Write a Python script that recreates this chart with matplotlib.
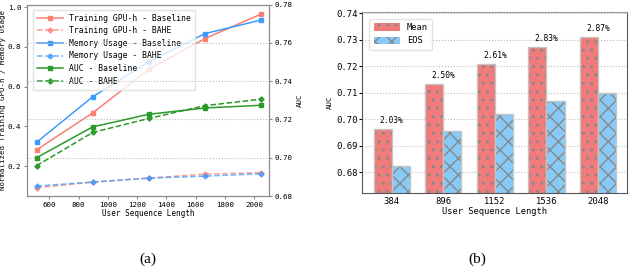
import matplotlib
matplotlib.use("Agg")
import matplotlib.pyplot as plt
from matplotlib.patches import Patch
import numpy as np

plt.rcParams['font.family'] = ['DejaVu Sans Mono', 'DejaVu Sans']

# --- (a) cost / AUC vs sequence length ---
seq_len = [512, 896, 1280, 1664, 2048]
gpu_base = [0.282, 0.468, 0.687, 0.842, 0.965]
gpu_bahe = [0.092, 0.120, 0.140, 0.160, 0.168]
mem_base = [0.320, 0.549, 0.725, 0.867, 0.935]
mem_bahe = [0.100, 0.120, 0.140, 0.150, 0.162]
auc_base = [0.7000, 0.7161, 0.7227, 0.7260, 0.7274]
auc_bahe = [0.6958, 0.7132, 0.7205, 0.7272, 0.7306]

# --- (b) AUC bars ---
bar_cats = ['384', '896', '1152', '1536', '2048']
auc_mean = [0.6962, 0.7132, 0.7208, 0.7272, 0.7309]
auc_eos = [0.6822, 0.6955, 0.7019, 0.7069, 0.7099]
gain_labels = ['2.03%', '2.50%', '2.61%', '2.83%', '2.87%']

RED = '#FA7F72'
BLUE = '#3D9BFF'
GREEN = '#2A9A2A'
SPINE = '#8a8a8a'

fig = plt.figure(figsize=(6.3, 2.7), dpi=100)

ax = fig.add_axes([0.0424, 0.274, 0.3851, 0.709])
ax2 = ax.twinx()

l1, = ax.plot(seq_len, gpu_base, '-', color=RED, marker='s', ms=3, lw=1.1)
l2, = ax.plot(seq_len, gpu_bahe, '--', color=RED, marker='D', ms=2.6, lw=1.1, alpha=0.75)
l3, = ax.plot(seq_len, mem_base, '-', color=BLUE, marker='s', ms=3, lw=1.1)
l4, = ax.plot(seq_len, mem_bahe, '--', color=BLUE, marker='D', ms=2.6, lw=1.1, alpha=0.75)
l5, = ax2.plot(seq_len, auc_base, '-', color=GREEN, marker='s', ms=3, lw=1.1)
l6, = ax2.plot(seq_len, auc_bahe, '--', color=GREEN, marker='D', ms=2.6, lw=1.1)

ax.set_xlim(445, 2105)
ax.set_ylim(0.05, 1.013)
ax.set_yticks([0.2, 0.4, 0.6, 0.8, 1.0])
ax.set_xticks([600, 800, 1000, 1200, 1400, 1600, 1800, 2000])
ax2.set_ylim(0.68, 0.78)
ax2.set_yticks([0.68, 0.70, 0.72, 0.74, 0.76, 0.78])
ax2.set_yticklabels(['0.68', '0.70', '0.72', '0.74', '0.76', '0.78'])
ax2.grid(axis='y', ls=':', color='#bbbbbb', lw=0.8)

for a in (ax, ax2):
    for s in a.spines.values():
        s.set_color(SPINE)
    a.tick_params(labelsize=5.4, length=2.5, color=SPINE, pad=1.5)

ax.set_xlabel('User Sequence Length', fontsize=5.5, labelpad=1)
ax.set_ylabel('Normalized Training GPU-h / Memory Usage', fontsize=5.3, labelpad=1)
ax2.set_ylabel('AUC', fontsize=5.3, labelpad=3)

ax.legend([l1, l2, l3, l4, l5, l6],
          ['Training GPU-h - Baseline', 'Training GPU-h - BAHE',
           'Memory Usage - Baseline', 'Memory Usage - BAHE',
           'AUC - Baseline', 'AUC - BAHE'],
          loc='upper left', fontsize=5.8, frameon=True, framealpha=0.8,
          edgecolor='#dddddd', fancybox=False, borderpad=0.5,
          handlelength=3.2, labelspacing=0.45, bbox_to_anchor=(0.01, 0.995))

# (b)
bx = fig.add_axes([0.575, 0.286, 0.421, 0.671])
x = np.arange(len(bar_cats))
w = 0.35
bx.bar(x - w / 2, auc_mean, w, color='#F07B7B', hatch='..', edgecolor='#888888',
       lw=0, zorder=2)
bx.bar(x + w / 2, auc_eos, w, color='#87CAF8', hatch='xx', edgecolor='#888888',
       lw=0, zorder=2)
bx.bar(x - w / 2, auc_mean, w, fill=False, edgecolor='#c4c4c4', lw=1.0, zorder=3)
bx.bar(x + w / 2, auc_eos, w, fill=False, edgecolor='#c4c4c4', lw=1.0, zorder=3)

for i, lab in enumerate(gain_labels):
    bx.annotate(lab, (x[i], auc_mean[i]), xytext=(0, 3), textcoords='offset points',
                ha='center', va='bottom', fontsize=5.7)

bx.set_xlim(-0.57, 4.57)
bx.set_ylim(0.6722, 0.7406)
bx.set_yticks([0.68, 0.69, 0.70, 0.71, 0.72, 0.73, 0.74])
bx.set_yticklabels(['0.68', '0.69', '0.70', '0.71', '0.72', '0.73', '0.74'])
bx.set_xticks(x)
bx.set_xticklabels(bar_cats)
bx.grid(axis='y', ls=':', color='#bbbbbb', lw=0.8, zorder=0)
bx.tick_params(labelsize=6.4, length=2, pad=1.5)
bx.tick_params(axis='x', length=0, pad=3)
for s in bx.spines.values():
    s.set_color('#555555')
bx.spines['top'].set_color('#999999')
bx.set_xlabel('User Sequence Length', fontsize=6.3, labelpad=1)
bx.set_ylabel('AUC', fontsize=5.3, labelpad=2)

hnd = [Patch(facecolor='#F07B7B', hatch='..', edgecolor='#888888', lw=0),
       Patch(facecolor='#87CAF8', hatch='xx', edgecolor='#888888', lw=0)]
bx.legend(hnd, ['Mean', 'EOS'], loc='upper left', fontsize=6.3, fancybox=True,
          edgecolor='#dddddd', handlelength=3.0, handleheight=1.0,
          bbox_to_anchor=(0.01, 0.985), borderpad=0.5, labelspacing=0.5)

fig.text(0.234, 0.04, '(a)', fontsize=11, family='Liberation Serif', ha='center', va='center')
fig.text(0.757, 0.04, '(b)', fontsize=11, family='Liberation Serif', ha='center', va='center')

fig.savefig('out.png', dpi=100)
